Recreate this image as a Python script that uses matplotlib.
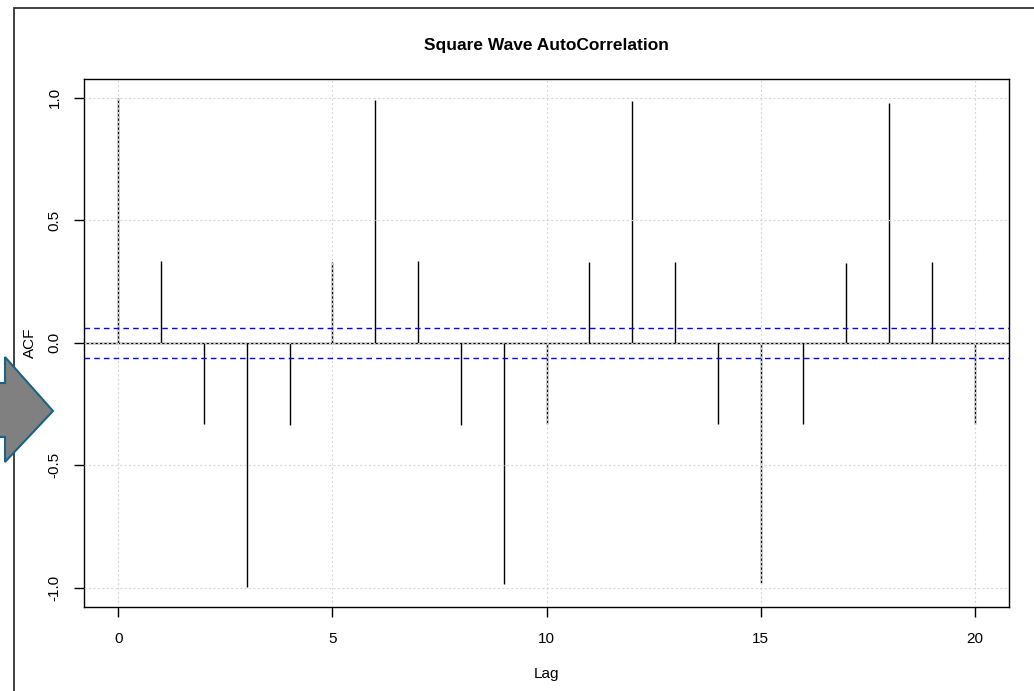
import matplotlib
matplotlib.use("Agg")
import matplotlib.pyplot as plt
from matplotlib.patches import Polygon, Rectangle

plt.rcParams["font.family"] = ["Liberation Sans", "DejaVu Sans"]

# ACF values, lags 0..20
lags = list(range(21))
acf = [1.0, 0.334, -0.333, -0.998, -0.336, 0.331,
       0.992, 0.334, -0.334, -0.986, -0.333, 0.331,
       0.988, 0.332, -0.332, -0.982, -0.333, 0.326,
       0.980, 0.330, -0.331]
conf_level = 0.062   # 1.96 / sqrt(n)
x_ticks = [0, 5, 10, 15, 20]
y_ticks = [-1.0, -0.5, 0.0, 0.5, 1.0]

W, H = 1034, 691
fig = plt.figure(figsize=(W / 100, H / 100), dpi=100)
fig.patch.set_facecolor("white")

# outer frame, cropped at right and bottom
fig.patches.append(Rectangle((14 / W, -0.1), 1.2, 1 - 8 / H + 0.1,
                             transform=fig.transFigure, fill=False,
                             edgecolor="#333333", linewidth=1.3, zorder=0))

ax = fig.add_axes([84 / W, 1 - 607 / H, (1009 - 84) / W, (607 - 79) / H])

ax.vlines(lags, 0, acf, colors="black", linewidth=1.0, zorder=2)
ax.axhline(0, color="black", linewidth=1.0, zorder=2)
for c in (conf_level, -conf_level):
    ax.axhline(c, color="blue", linewidth=1.0, linestyle=(0, (4, 3)), zorder=3)

ax.set_xlim(-0.8, 20.8)
ax.set_ylim(-1.078, 1.077)
ax.set_xticks(x_ticks)
ax.set_xticklabels([str(t) for t in x_ticks])
ax.set_yticks(y_ticks)
ax.set_yticklabels([f"{t:.1f}" for t in y_ticks], rotation=90, va="center")
ax.tick_params(direction="out", length=7, width=1.0, labelsize=11, pad=9,
               colors="black")
ax.tick_params(axis="x", pad=11)

ax.set_axisbelow(False)
ax.grid(True, color="#d8d8d8", linestyle=(0, (2, 2)), linewidth=0.8)
for s in ax.spines.values():
    s.set_linewidth(1.0)
    s.set_color("black")

ax.set_title("Square Wave AutoCorrelation", fontsize=12.5, fontweight="bold",
             pad=21)
ax.set_xlabel("Lag", fontsize=11, labelpad=15)
fig.text(30 / W, 1 - 343 / H, "ACF", rotation=90, fontsize=11,
         ha="center", va="center")

# grey arrow on the left edge
arrow_px = [(-2, 383), (5, 383), (5, 357), (53, 411), (5, 462),
            (5, 437), (-2, 437)]
arrow = Polygon([(x / W, 1 - y / H) for x, y in arrow_px], closed=True,
                transform=fig.transFigure, facecolor="#808080",
                edgecolor="#1a6384", linewidth=1.5, zorder=5)
fig.patches.append(arrow)

fig.savefig("out.png", dpi=100)
